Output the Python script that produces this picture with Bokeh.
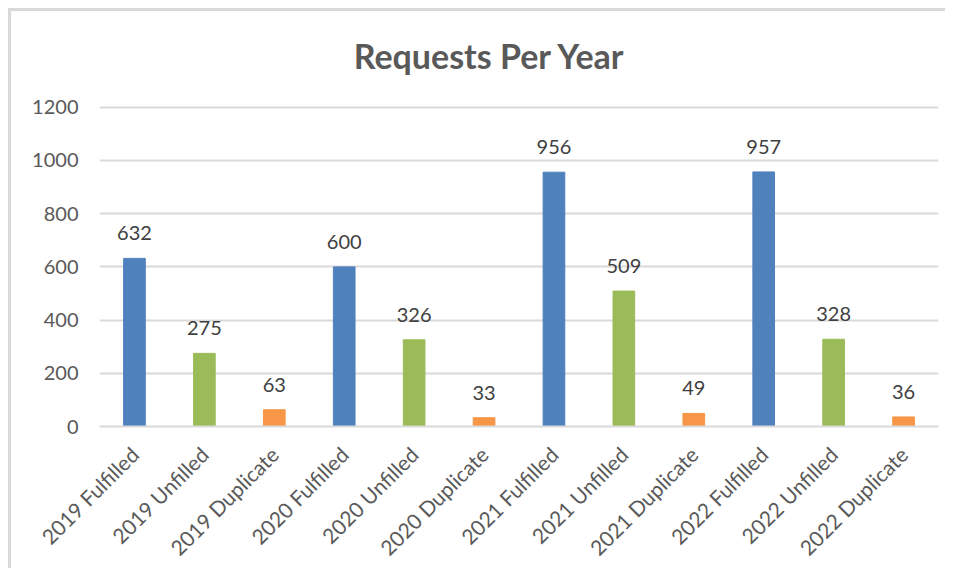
import math
from bokeh.plotting import figure
from bokeh.models import ColumnDataSource, Label, FixedTicker, LabelSet, Range1d
from bokeh.core.properties import value
from bokeh.embed import file_html
from bokeh.resources import INLINE

categories = ["2019 Fulfilled", "2019 Unfilled", "2019 Duplicate",
              "2020 Fulfilled", "2020 Unfilled", "2020 Duplicate",
              "2021 Fulfilled", "2021 Unfilled", "2021 Duplicate",
              "2022 Fulfilled", "2022 Unfilled", "2022 Duplicate"]
values = [632, 275, 63, 600, 326, 33, 956, 509, 49, 957, 328, 36]
kind_colors = {"Fulfilled": "#4F81BD", "Unfilled": "#9BBB59", "Duplicate": "#F79646"}
y_ticks = [0, 200, 400, 600, 800, 1000, 1200]
chart_title = "Requests Per Year"

colors = [kind_colors[c.split(" ")[1]] for c in categories]
src = ColumnDataSource(dict(cat=categories, val=values, color=colors,
                            lab=[str(v) for v in values]))

FONT = "Lato"
TXT = "#595959"

# frame is extended above the top tick so the title can sit inside it
y_top = y_ticks[-1] * 406 / 320

p = figure(x_range=categories, y_range=Range1d(0, y_top), width=937, height=560,
           output_backend="svg", toolbar_location=None,
           min_border_left=88, min_border_right=10, min_border_top=10,
           min_border_bottom=144)
p.styles = {"border-top": "3px solid #d9d9d9", "border-left": "3px solid #d9d9d9",
            "margin-top": "8px", "margin-left": "8px"}

p.vbar(x="cat", top="val", width=0.31, color="color", source=src)

labels = LabelSet(x="cat", y="val", text="lab", source=src, text_align="center",
                  text_baseline="bottom", y_offset=18, text_font_size="20px",
                  text_color="#404040", text_font=value(FONT))
p.add_layout(labels)

title = Label(x=5.58, y=y_ticks[-1], y_offset=52,
              text=chart_title, text_align="center", text_baseline="middle",
              text_font=FONT, text_font_size="34px", text_font_style="bold",
              text_color=TXT)
p.add_layout(title)

p.outline_line_color = None
p.xgrid.grid_line_color = None
p.ygrid.grid_line_color = "#d9d9d9"
p.ygrid.grid_line_width = 2

p.yaxis.ticker = FixedTicker(ticks=y_ticks)
p.yaxis.axis_line_color = None
p.yaxis.major_tick_line_color = None
p.yaxis.minor_tick_line_color = None
p.yaxis.major_label_text_font = FONT
p.yaxis.major_label_text_font_size = "20px"
p.yaxis.major_label_text_color = TXT
p.yaxis.major_label_standoff = 15

p.xaxis.axis_line_color = "#d9d9d9"
p.xaxis.axis_line_width = 2
p.xaxis.major_tick_line_color = None
p.xaxis.major_label_orientation = math.pi / 4
p.xaxis.major_label_text_font = FONT
p.xaxis.major_label_text_font_size = "21px"
p.xaxis.major_label_text_color = TXT
p.xaxis.major_label_standoff = 18

p.x_range.range_padding = 0
p.background_fill_color = "white"
p.border_fill_color = "white"

open("out.html", "w").write(file_html(p, INLINE))
